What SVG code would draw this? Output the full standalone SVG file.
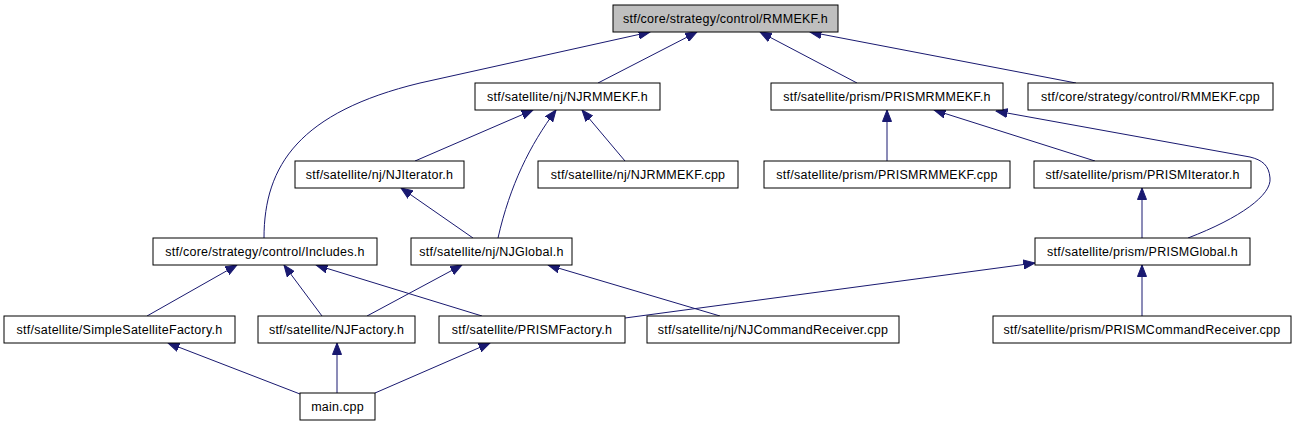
<svg xmlns="http://www.w3.org/2000/svg" width="1297" height="427" viewBox="0 0 1297 427">
<style>
.box{fill:#ffffff;stroke:#000000;stroke-width:1}
.root{fill:#bfbfbf;stroke:#000000;stroke-width:1}
.lbl{font-family:"Liberation Sans",Arial,sans-serif;font-size:12.5px;letter-spacing:0.25px;fill:#000000;text-anchor:middle}
.edge{fill:none;stroke:#191970;stroke-width:1;marker-end:url(#ah)}
</style>
<defs>
<marker id="ah" markerUnits="userSpaceOnUse" viewBox="0 0 12 10" markerWidth="12" markerHeight="10" refX="11.5" refY="5" orient="auto">
<path d="M0,0.5 L11.5,5 L0,9.5 Z" fill="#191970" stroke="#191970" stroke-width="1"/>
</marker>
</defs>
<rect width="1297" height="427" fill="#ffffff"/>
<g id="edges">
<path class="edge" d="M264,238 C264,165 300,112 420,83 L650,32"/>
<path class="edge" d="M598,83 L697,32"/>
<path class="edge" d="M857,83 L760,32"/>
<path class="edge" d="M1076,83 L810,32"/>
<path class="edge" d="M415,161 L533,110"/>
<path class="edge" d="M498,238 C510,185 530,145 556,110"/>
<path class="edge" d="M625,161 L582,110"/>
<path class="edge" d="M887,161 L887,110"/>
<path class="edge" d="M1095,161 L934,110"/>
<path class="edge" d="M1188,238 C1240,218 1272,195 1270,178 C1269,165 1262,160 1250,157 L996,111"/>
<path class="edge" d="M473,238 L401,188"/>
<path class="edge" d="M1142,238 L1142,188"/>
<path class="edge" d="M147,316 L237,265"/>
<path class="edge" d="M322,316 L284,265"/>
<path class="edge" d="M482,316 L316,265"/>
<path class="edge" d="M367,316 L462,265"/>
<path class="edge" d="M625,318 L1035,263"/>
<path class="edge" d="M720,316 L548,265"/>
<path class="edge" d="M1142,316 L1142,265"/>
<path class="edge" d="M300,394 L168,343"/>
<path class="edge" d="M337,393 L337,343"/>
<path class="edge" d="M375,393 L490,343"/>
</g>
<g id="node-root"><rect class="root" x="613" y="5" width="225" height="27"/><text class="lbl" x="725.5" y="23">stf/core/strategy/control/RMMEKF.h</text></g>
<g id="node-njrmmekf-h"><rect class="box" x="475" y="83" width="185" height="27"/><text class="lbl" x="567.5" y="101">stf/satellite/nj/NJRMMEKF.h</text></g>
<g id="node-prismrmmekf-h"><rect class="box" x="771" y="83" width="232" height="27"/><text class="lbl" x="887" y="101">stf/satellite/prism/PRISMRMMEKF.h</text></g>
<g id="node-rmmekf-cpp"><rect class="box" x="1028" y="83" width="245" height="27"/><text class="lbl" x="1150.5" y="101">stf/core/strategy/control/RMMEKF.cpp</text></g>
<g id="node-njiterator"><rect class="box" x="295" y="161" width="169" height="27"/><text class="lbl" x="379.5" y="179">stf/satellite/nj/NJIterator.h</text></g>
<g id="node-njrmmekf-cpp"><rect class="box" x="538" y="161" width="200" height="27"/><text class="lbl" x="638" y="179">stf/satellite/nj/NJRMMEKF.cpp</text></g>
<g id="node-prismrmmekf-cpp"><rect class="box" x="764" y="161" width="246" height="27"/><text class="lbl" x="887" y="179">stf/satellite/prism/PRISMRMMEKF.cpp</text></g>
<g id="node-prismiterator"><rect class="box" x="1034" y="161" width="217" height="27"/><text class="lbl" x="1142.5" y="179">stf/satellite/prism/PRISMIterator.h</text></g>
<g id="node-includes"><rect class="box" x="153" y="238" width="224" height="27"/><text class="lbl" x="265" y="256">stf/core/strategy/control/Includes.h</text></g>
<g id="node-njglobal"><rect class="box" x="411" y="238" width="161" height="27"/><text class="lbl" x="491.5" y="256">stf/satellite/nj/NJGlobal.h</text></g>
<g id="node-prismglobal"><rect class="box" x="1035" y="238" width="215" height="27"/><text class="lbl" x="1142.5" y="256">stf/satellite/prism/PRISMGlobal.h</text></g>
<g id="node-simplesatfactory"><rect class="box" x="4" y="316" width="231" height="27"/><text class="lbl" x="119.5" y="334">stf/satellite/SimpleSatelliteFactory.h</text></g>
<g id="node-njfactory"><rect class="box" x="258" y="316" width="157" height="27"/><text class="lbl" x="336.5" y="334">stf/satellite/NJFactory.h</text></g>
<g id="node-prismfactory"><rect class="box" x="439" y="316" width="186" height="27"/><text class="lbl" x="532" y="334">stf/satellite/PRISMFactory.h</text></g>
<g id="node-njcmdreceiver"><rect class="box" x="647" y="316" width="252" height="27"/><text class="lbl" x="773" y="334">stf/satellite/nj/NJCommandReceiver.cpp</text></g>
<g id="node-prismcmdreceiver"><rect class="box" x="993" y="316" width="298" height="27"/><text class="lbl" x="1142" y="334">stf/satellite/prism/PRISMCommandReceiver.cpp</text></g>
<g id="node-main"><rect class="box" x="300" y="393" width="75" height="27"/><text class="lbl" x="337.5" y="411">main.cpp</text></g>
</svg>
